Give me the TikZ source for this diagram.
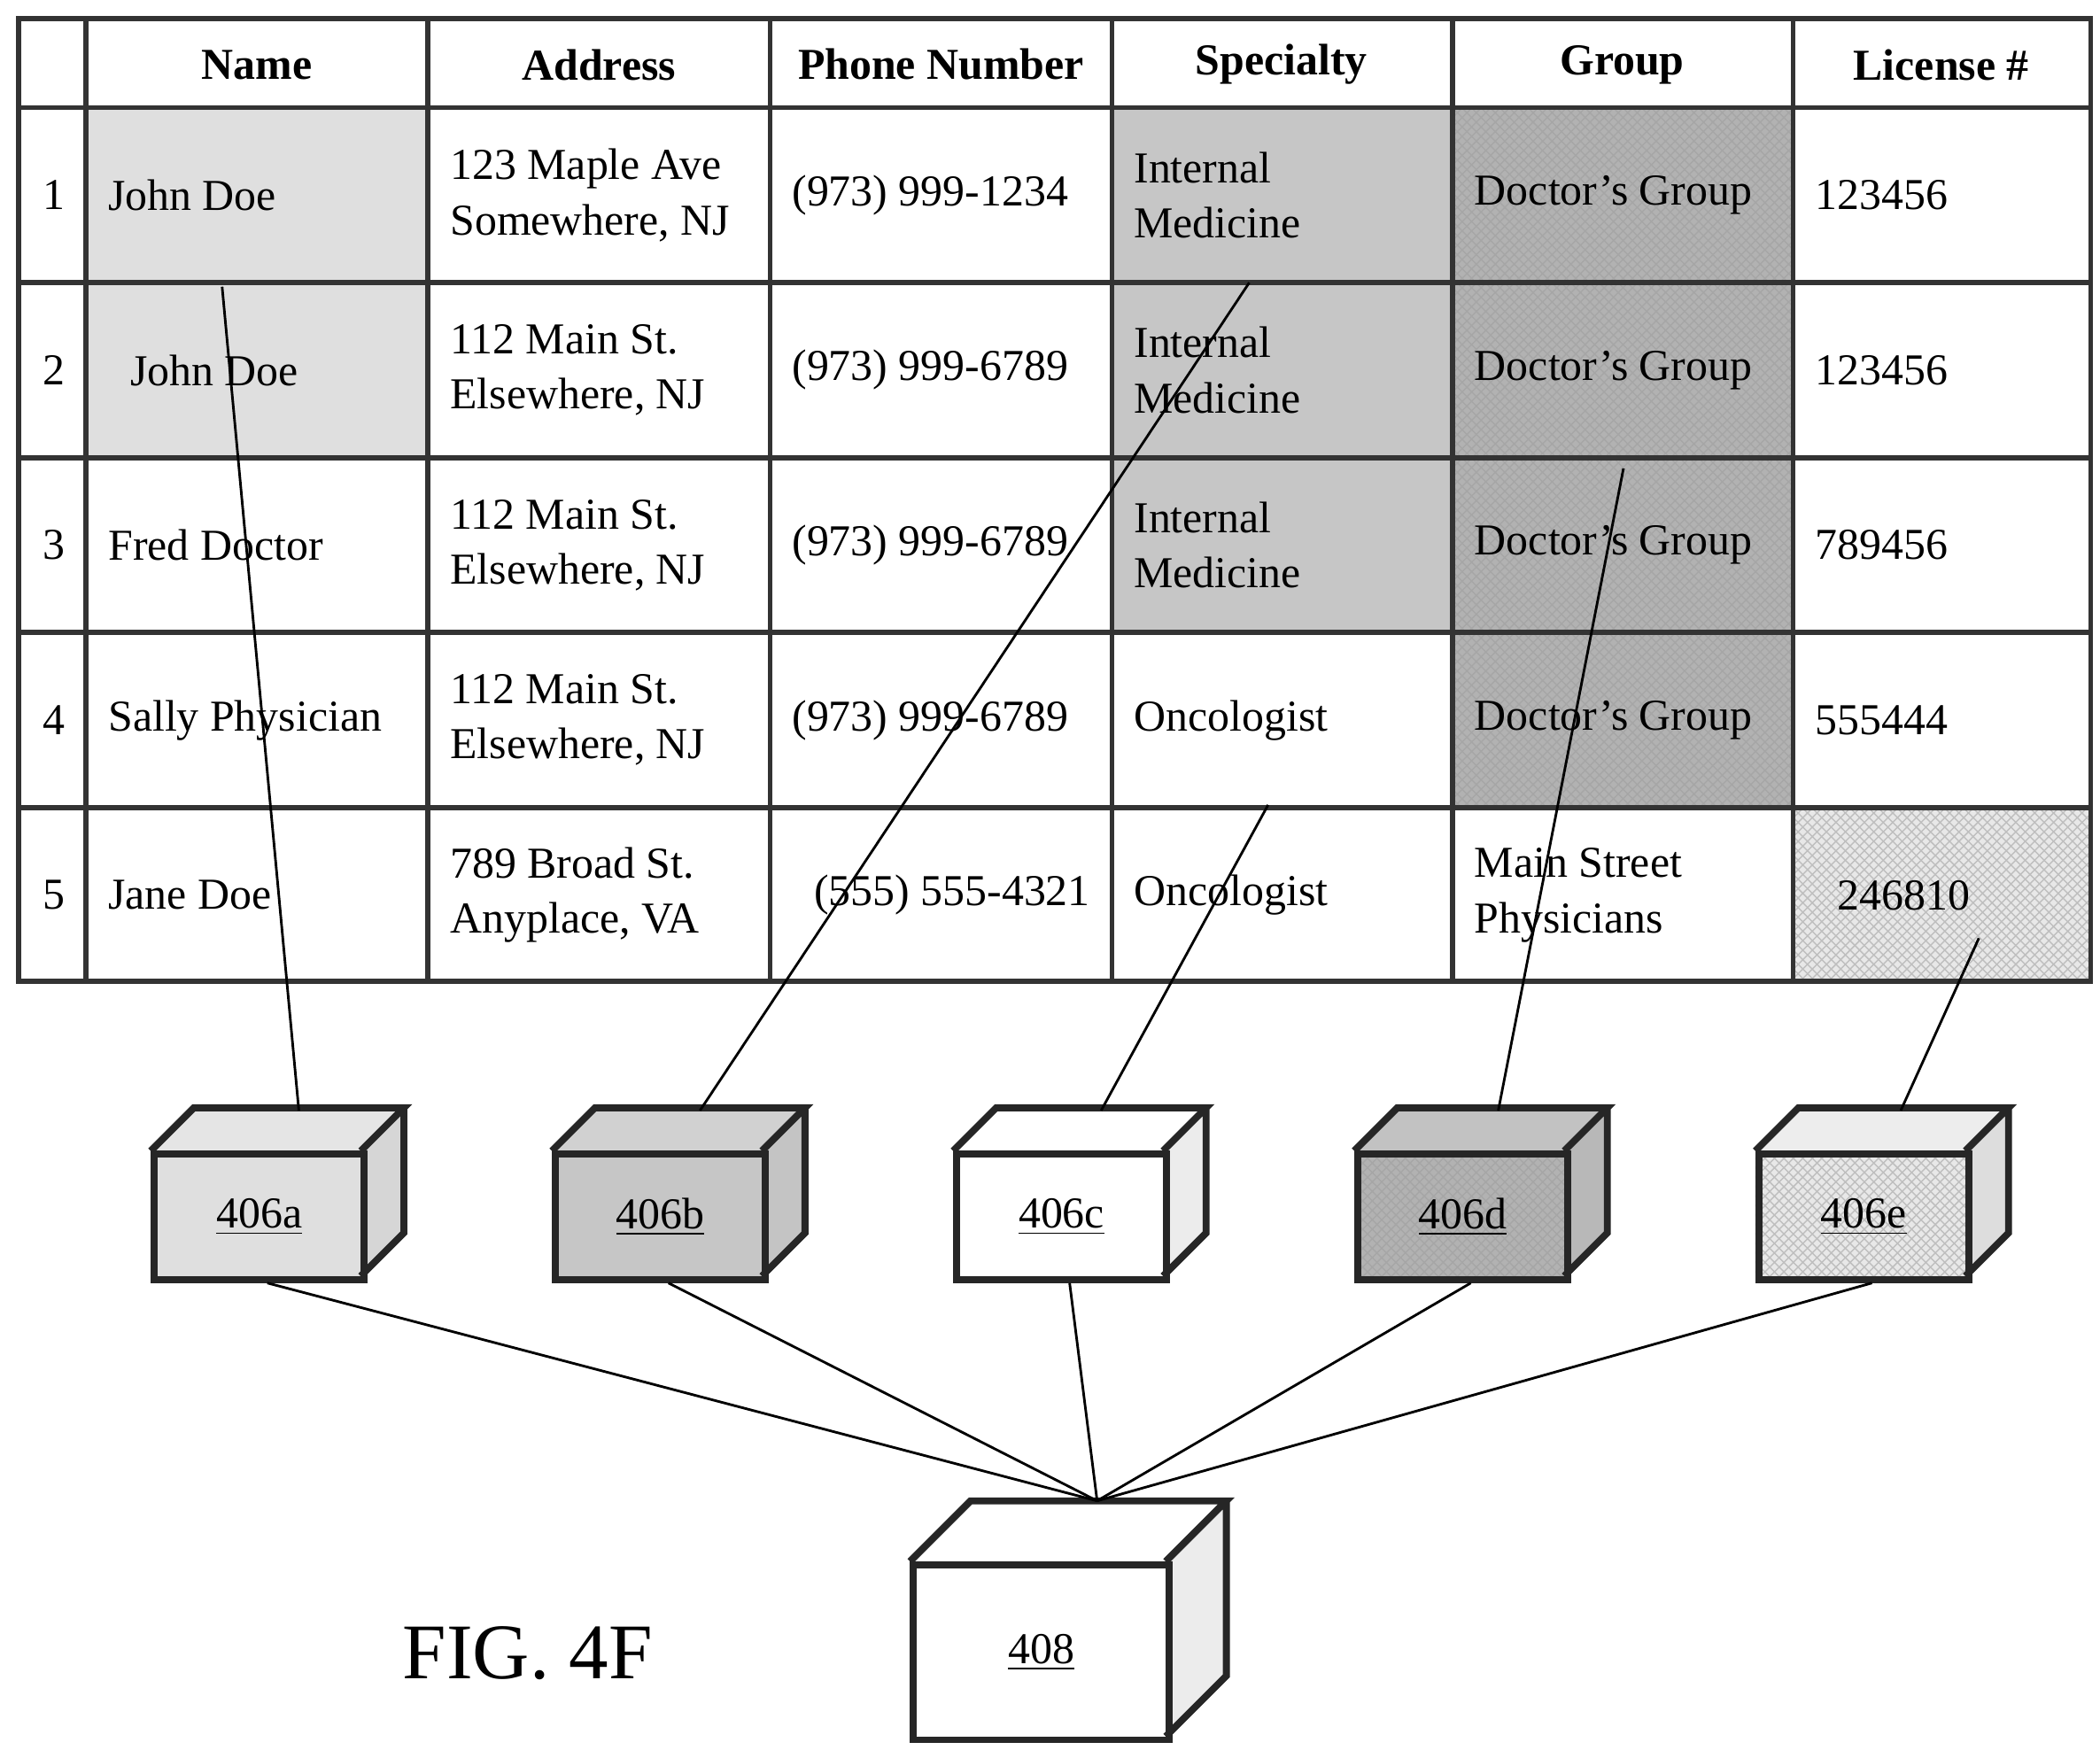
\documentclass[tikz,border=0pt]{standalone}
\usepackage{fontspec}
\setmainfont{Liberation Serif}
\usetikzlibrary{positioning, calc, patterns}

\begin{document}
\begin{tikzpicture}[x=0.015cm, y=-0.015cm,
  grid/.style={draw=black!80, line width=1.6pt},
  cell/.style={anchor=west, align=left, font=\fontsize{14}{17.5}\selectfont, inner sep=0pt},
  head/.style={font=\fontsize{14}{17}\selectfont\bfseries},
  num/.style={font=\fontsize{14}{17}\selectfont},
  lead/.style={black, line width=0.8pt},
  boxline/.style={draw=black!85, line width=2.2pt},
  lbl/.style={font=\fontsize{14}{17}\selectfont}
]
\useasboundingbox (0,0) rectangle (1560,1300);

% shaded cells
\fill[gray!25] (64,80) rectangle (318,340);
\fill[gray!45] (826,80) rectangle (1079,470);
\fill[gray!60] (1079,80) rectangle (1332,600);
\fill[gray!18] (1332,600) rectangle (1553,729);
\fill[pattern=crosshatch, pattern color=black!35] (1079,80) rectangle (1332,600);
\fill[pattern=crosshatch, pattern color=black!25] (1332,600) rectangle (1553,729);

% grid
\draw[grid] (14,14) rectangle (1553,729);
\foreach \x in {64,318,572,826,1079,1332} \draw[grid] (\x,14) -- (\x,729);
\foreach \y in {80,210,340,470,600} \draw[grid] (14,\y) -- (1553,\y);

% header
\node[head] (hName) at (191,48) {Name};
\node[head] (hAddr) at (445,48) {Address};
\node[head] (hPhone) at (699,48) {Phone Number};
\node[head] (hSpec) at (952,48) {Specialty};
\node[head] (hGroup) at (1205,48) {Group};
\node[head] (hLic) at (1442,48) {License \#};

% rows
\foreach \n/\y/\nm/\ad/\ph/\sp/\gr/\li in {
  1/145/John Doe/{123 Maple Ave\\Somewhere, NJ}/(973) 999-1234/{Internal\\Medicine}/Doctor's Group/123456,
  2/275/\ \ John Doe/{112 Main St.\\Elsewhere, NJ}/(973) 999-6789/{Internal\\Medicine}/Doctor's Group/123456,
  3/405/Fred Doctor/{112 Main St.\\Elsewhere, NJ}/(973) 999-6789/{Internal\\Medicine}/Doctor's Group/789456,
  4/535/Sally Physician/{112 Main St.\\Elsewhere, NJ}/(973) 999-6789/Oncologist/Doctor's Group/555444,
  5/665/Jane Doe/{789 Broad St.\\Anyplace, VA}/\ \ (555) 555-4321/Oncologist/{Main Street\\Physicians}/\ \ 246810}{
  \node[num] (r\n) at (40,\y) {\n};
  \node[cell] (name\n) at (80,\y) {\nm};
  \node[cell] (addr\n) at (334,\y) {\ad};
  \node[cell] (phone\n) at (588,\y) {\ph};
  \node[cell] (spec\n) at (842,\y) {\sp};
  \node[cell] (group\n) at (1095,\y) {\gr};
  \node[cell] (lic\n) at (1348,\y) {\li};
}

% cubes: name, front x, front y, width, height, depth, gray level, pattern, label
\foreach \nm/\fx/\fy/\w/\h/\d/\p/\hatch/\tx in {
  A/112/855/156/93/32/25/0/406a,
  B/410/855/156/93/32/45/0/406b,
  C/708/855/156/93/32/0/0/406c,
  D/1006/855/156/93/32/60/35/406d,
  E/1304/855/156/93/32/18/25/406e,
  F/676/1160/190/130/45/0/0/408}{
  \pgfmathtruncatemacro{\pt}{\p*0.8}
  \pgfmathtruncatemacro{\ps}{\p*0.7+15}
  \fill[gray!\pt] (\fx,\fy) -- ++(\d,-\d) -- ++(\w,0) -- ++(-\d,\d) -- cycle;
  \fill[gray!\ps] (\fx+\w,\fy) -- ++(\d,-\d) -- ++(0,\h) -- ++(-\d,\d) -- cycle;
  \fill[gray!\p] (\fx,\fy) rectangle ++(\w,\h);
  \ifnum\hatch>0
    \fill[pattern=crosshatch, pattern color=black!\hatch] (\fx,\fy) rectangle ++(\w,\h);
  \fi
  \draw[boxline] (\fx,\fy) -- ++(\d,-\d) -- ++(\w,0) -- ++(-\d,\d)
    (\fx+\w+\d,\fy-\d) -- ++(0,\h) -- ++(-\d,\d);
  \node[boxline, minimum width=\w*0.015cm, minimum height=\h*0.015cm,
    anchor=north west, inner sep=0pt, lbl] (box\nm) at (\fx,\fy) {\underline{\tx}};
}

% leaders from the table
\coordinate (pA) at (165,213);
\coordinate (pB) at (928,210);
\coordinate (pC) at (942,598);
\coordinate (pD) at (1206,348);
\coordinate (pE) at (1470,697);
\draw[lead] (pA) -- (222,825);
\draw[lead] (pB) -- (520,825);
\draw[lead] (pC) -- (818,825);
\draw[lead] (pD) -- (1113,825);
\draw[lead] (pE) -- (1412,825);

% to the collector
\coordinate (hub) at (815,1115);
\foreach \nm in {A,B,C,D,E} \draw[lead] ($(box\nm.south)+(6,0)$) -- (hub);

\node[font=\fontsize{25}{30}\selectfont] (fig) at (392,1228) {FIG. 4F};
\end{tikzpicture}
\end{document}
